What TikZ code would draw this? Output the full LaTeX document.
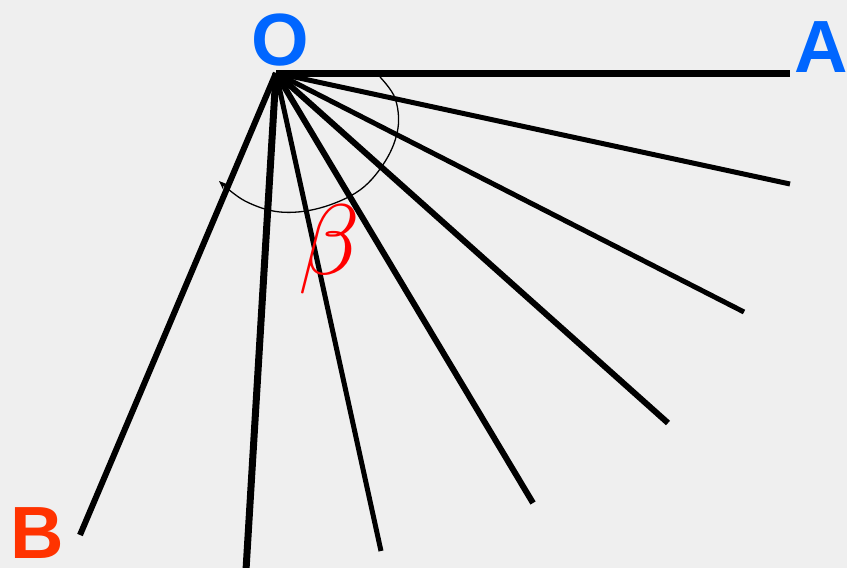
\documentclass[tikz,border=0pt]{standalone}
\usepackage{fontspec}
\usepackage{graphicx}
\setsansfont{Liberation Sans}
\usetikzlibrary{arrows.meta}
\definecolor{bg}{RGB}{239,239,239}
\definecolor{lblue}{RGB}{0,102,255}
\definecolor{lorange}{RGB}{255,51,0}
\begin{document}
\begin{tikzpicture}[x=1pt,y=-1pt,
  ray/.style={line width=5.5pt,line cap=butt},
  lbl/.style={font=\sffamily\bfseries\fontsize{74}{74}\selectfont,inner sep=0pt}]
\fill[bg] (0,0) rectangle (847,568);
\useasboundingbox (0,0) rectangle (847,568);
\coordinate (o) at (276,73);
\coordinate (r1) at (790,73);
\coordinate (r2) at (790,184);
\coordinate (r3) at (744,312);
\coordinate (r4) at (668,423);
\coordinate (r5) at (533,503);
\coordinate (r6) at (381,551);
\coordinate (r7) at (246,570);
\coordinate (r8) at (80,535);
\draw[ray,line width=7pt] (o) -- (r1);
\draw[ray,line width=5pt] (o) -- (r2);
\draw[ray,line width=5pt] (o) -- (r3);
\draw[ray,line width=6pt] (o) -- (r4);
\draw[ray,line width=6pt] (o) -- (r5);
\draw[ray,line width=5pt] (o) -- (r6);
\draw[ray,line width=7pt] (o) -- (r7);
\draw[ray,line width=6pt] (o) -- (r8);
\node[lbl,text=lblue,anchor=base] (O) at (280,65) {O};
\node[lbl,text=lblue,anchor=base west] (A) at (794,72) {A};
\node[lbl,text=lorange,anchor=base] (B) at (37,558) {B};
\draw[line width=1.3pt,-{Stealth[length=9pt,width=7pt]}] plot[smooth,tension=0.6] coordinates
  {(380,77) (395,98) (398,128) (386,160) (360,190) (320,208) (280,212) (245,201) (219,181)};
\node[text=red,inner sep=0pt] (beta) at (329,249) {\scalebox{10}{$\beta$}};
\end{tikzpicture}
\end{document}
